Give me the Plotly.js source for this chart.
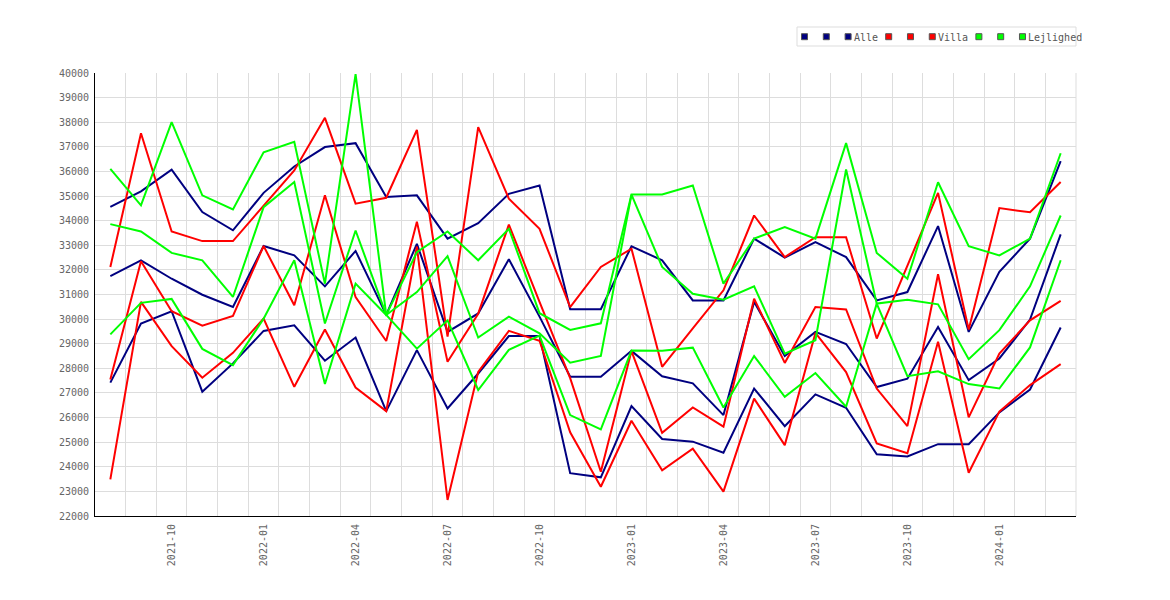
<!DOCTYPE html>
<html>
<head>
<meta charset="utf-8">
<script src="https://cdn.plot.ly/plotly-3.0.1.min.js"></script>
<style>
    html, body { margin: 0; padding: 0; background: #fff; }
    #chart { width: 1170px; height: 600px; }
</style>
</head>
<body>
<div id="chart"></div>
<script>
// === DATA ===
const months = [
    '2021-08', '2021-09', '2021-10', '2021-11', '2021-12',
    '2022-01', '2022-02', '2022-03', '2022-04', '2022-05', '2022-06',
    '2022-07', '2022-08', '2022-09', '2022-10', '2022-11', '2022-12',
    '2023-01', '2023-02', '2023-03', '2023-04', '2023-05', '2023-06',
    '2023-07', '2023-08', '2023-09', '2023-10', '2023-11', '2023-12',
    '2024-01', '2024-02', '2024-03'
];

// Alle
const alleHigh = [34560, 35190, 36070, 34350, 33610, 35130, 36200, 36990, 37150, 34960, 35030, 33270, 33900, 35090, 35430, 30400, 30400, 32960, 32390, 30760, 30760, 33270, 32500, 33130, 32520, 30760, 31100, 33780, 29480, 31920, 33270, 36420];
const alleMid  = [31750, 32390, 31640, 30990, 30490, 32970, 32590, 31330, 32770, 30170, 33060, 29480, 30230, 32430, 30100, 27660, 27660, 28710, 27680, 27390, 26100, 30700, 28500, 29480, 28990, 27240, 27580, 29680, 27520, 28400, 29980, 33440];
const alleLow  = [27420, 29820, 30320, 27050, 28200, 29520, 29750, 28310, 29250, 26260, 28740, 26370, 27790, 29310, 29310, 23740, 23570, 26470, 25130, 25020, 24570, 27180, 25650, 26940, 26400, 24510, 24420, 24920, 24920, 26210, 27140, 29660];

// Villa
const villaHigh = [32120, 37550, 33560, 33170, 33170, 34590, 36040, 38180, 34690, 34930, 37690, 29290, 37800, 34890, 33670, 30490, 32120, 32860, 28060, 29620, 31170, 34210, 32520, 33330, 33330, 29210, 32150, 35130, 29580, 34510, 34340, 35570];
const villaMid  = [27550, 32350, 30320, 29730, 30130, 32970, 30560, 35030, 30900, 29110, 33960, 28270, 30220, 33840, 30700, 27600, 23800, 28700, 25380, 26410, 25630, 30830, 28220, 30490, 30390, 27180, 25650, 31820, 26010, 28600, 29950, 30740];
const villaLow  = [23490, 30700, 28900, 27620, 28630, 30020, 27250, 29580, 27220, 26260, 32950, 22650, 27850, 29520, 29120, 25400, 23190, 25870, 23860, 24740, 22990, 26770, 24880, 29440, 27850, 24950, 24550, 29080, 23760, 26240, 27320, 28170];

// Lejlighed
const lejlHigh = [36100, 34620, 38000, 35030, 34460, 36780, 37200, 31440, 39950, 30170, 32720, 33560, 32390, 33670, 30240, 29560, 29830, 35060, 35060, 35430, 31440, 33270, 33740, 33270, 37150, 32690, 31640, 35560, 32960, 32590, 33270, 36740];
const lejlMid  = [33860, 33560, 32690, 32390, 30900, 34550, 35570, 29820, 33600, 30170, 31100, 32560, 29250, 30100, 29420, 28230, 28500, 35060, 32120, 31030, 30790, 31330, 28600, 29140, 36080, 30630, 30790, 30600, 28370, 29550, 31330, 34210];
const lejlLow  = [29380, 30660, 30820, 28790, 28130, 30020, 32390, 27360, 31440, 30170, 28800, 29950, 27120, 28750, 29330, 26100, 25520, 28720, 28710, 28840, 26410, 28500, 26840, 27810, 26440, 30630, 27680, 27880, 27360, 27180, 28850, 32390];

const groupNames = ['Alle', 'Villa', 'Lejlighed'];
const groupColors = ['#000080', '#ff0000', '#00ff00'];
const groupSeries = [
    [alleHigh, alleMid, alleLow],
    [villaHigh, villaMid, villaLow],
    [lejlHigh, lejlMid, lejlLow]
];

// only quarter months get a label
const tickLabels = months.map(m => /-(01|04|07|10)$/.test(m) ? m : '');

const FONT = 'DejaVu Sans Mono, monospace';

// === TRACES ===
const traces = [];
groupSeries.forEach((series, g) => {
    series.forEach((vals, i) => {
        traces.push({
            x: months,
            y: vals,
            type: 'scatter',
            mode: 'lines',
            name: i === 2 ? groupNames[g] : '',
            showlegend: false,
            line: { color: groupColors[g], width: 2 },
            hoverinfo: 'x+y'
        });
    });
});

// === LEGEND (drawn by hand: 3 small squares + name per group) ===
const M = { l: 95, r: 94, t: 73, b: 84 };
const W = 1170, H = 600;
const plotW = W - M.l - M.r;
const plotH = H - M.t - M.b;
const px2x = p => (p - M.l) / plotW;
const py2y = p => (H - M.b - p) / plotH;

const shapes = [{
    type: 'rect', xref: 'paper', yref: 'paper',
    x0: px2x(797), x1: px2x(1076), y0: py2y(46), y1: py2y(27),
    line: { color: '#dddddd', width: 1 }, fillcolor: '#ffffff', layer: 'below'
}, {
    // grid line on the right edge of the plot
    type: 'line', xref: 'paper', yref: 'paper',
    x0: 1, x1: 1, y0: 0, y1: 1,
    line: { color: '#dddddd', width: 1 }, layer: 'below'
}];
const annotations = [];
const charW = 6.02;
let cx = 804.5;
const legY = py2y(36.7);
groupNames.forEach((name, g) => {
    for (let k = 0; k < 3; k++) {
        shapes.push({
            type: 'rect', xref: 'paper', yref: 'paper',
            xsizemode: 'pixel', ysizemode: 'pixel',
            xanchor: px2x(cx + k * 21.8), yanchor: legY,
            x0: -3, x1: 3, y0: -3, y1: 3,
            fillcolor: groupColors[g],
            line: { color: '#555555', width: 1 }
        });
    }
    const tx = cx + 2 * 21.8 + 5;
    annotations.push({
        xref: 'paper', yref: 'paper', x: px2x(tx), y: py2y(37.5),
        xanchor: 'left', yanchor: 'middle', showarrow: false,
        text: name, borderpad: 0,
        font: { family: FONT, size: 10, color: '#555555' }
    });
    cx = tx + name.length * charW + 11.5;
});

// === LAYOUT ===
const layout = {
    width: W,
    height: H,
    margin: M,
    paper_bgcolor: '#ffffff',
    plot_bgcolor: '#ffffff',
    showlegend: false,
    font: { family: FONT, size: 10, color: '#666666' },
    xaxis: {
        type: 'category',
        range: [-0.5, months.length - 0.5],
        tickvals: months,
        ticktext: tickLabels,
        tickson: 'boundaries',
        tickangle: -90,
        ticks: '',
        ticklabelstandoff: 3,
        showgrid: true,
        gridcolor: '#dddddd',
        gridwidth: 1,
        showline: true,
        linecolor: '#000000',
        linewidth: 1,
        zeroline: false,
        tickfont: { family: FONT, size: 10, color: '#666666' }
    },
    yaxis: {
        range: [22000, 40000],
        dtick: 1000,
        tick0: 22000,
        ticks: '',
        ticklabelstandoff: 3,
        showgrid: true,
        gridcolor: '#dddddd',
        gridwidth: 1,
        showline: true,
        linecolor: '#000000',
        linewidth: 1,
        zeroline: false,
        tickformat: 'd',
        tickfont: { family: FONT, size: 10, color: '#666666' }
    },
    shapes: shapes,
    annotations: annotations
};

Plotly.newPlot('chart', traces, layout, { displayModeBar: false, staticPlot: true });
</script>
</body>
</html>
